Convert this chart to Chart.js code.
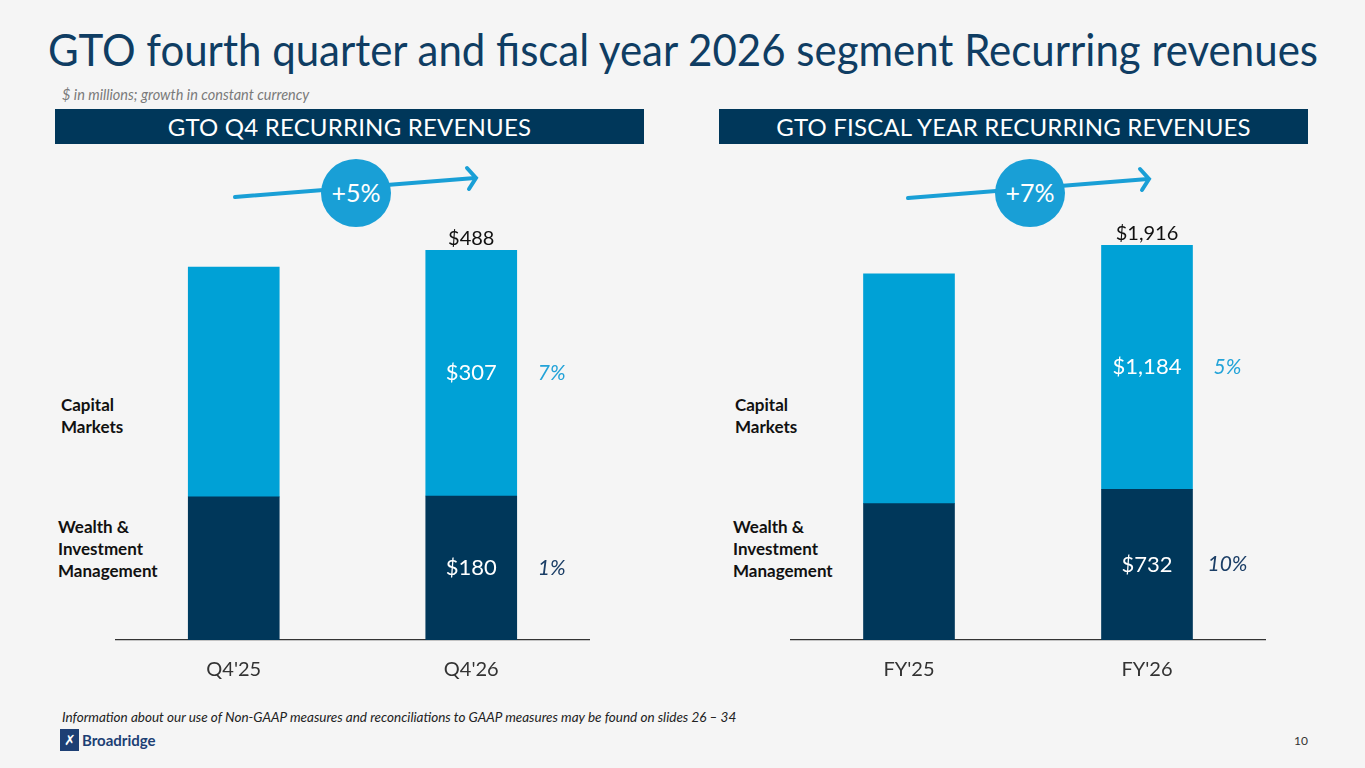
<!DOCTYPE html>
<html>
<head>
<meta charset="utf-8">
<script src="https://cdn.jsdelivr.net/npm/chart.js@4.4.1/dist/chart.umd.min.js"></script>
<style>
  html, body { margin: 0; padding: 0; }
  body { width: 1365px; height: 768px; background: #f5f5f5; position: relative; overflow: hidden;
         font-family: Lato, "Open Sans", sans-serif; color: #222; }
  .abs { position: absolute; }
  #title { left: 48px; top: 22px; font-size: 45px; color: #0f3d63; white-space: nowrap;
           transform-origin: left top; }
  #sub { left: 62px; top: 86px; font-size: 14.5px; font-style: italic; color: #7a7a7a; }
  .hdr { top: 109px; height: 35px; background: #00375a; color: #fff; font-size: 24px;
         line-height: 35px; text-align: center; letter-spacing: 0.2px; }
  .seg { font-size: 17px; font-weight: bold; color: #111; line-height: 22px; }
  .chart { position: absolute; }
  #foot { left: 62px; top: 709px; font-size: 13.5px; font-style: italic; color: #222; }
  #logo { left: 60px; top: 729px; height: 22px; display: flex; align-items: center; }
  #logo .mark { width: 19px; height: 22px; background: #1d3f74; color: #fff; font-size: 14px;
                line-height: 22px; text-align: center; margin-right: 3px; }
  #logo .name { font-size: 15px; font-weight: bold; color: #1d3f74; }
  #page { left: 1294px; top: 733px; font-size: 12px; color: #333; }
</style>
</head>
<body>
<div id="title" class="abs">GTO fourth quarter and fiscal year 2026 segment Recurring revenues</div>
<div id="sub" class="abs">$ in millions; growth in constant currency</div>
<div class="abs hdr" style="left:55px;width:589px;">GTO Q4 RECURRING REVENUES</div>
<div class="abs hdr" style="left:719px;width:589px;">GTO FISCAL YEAR RECURRING REVENUES</div>

<svg class="abs" style="left:0;top:0;" width="1365" height="768">
  <g stroke="#199fd6" stroke-width="4" fill="none" stroke-linecap="round">
    <line x1="235" y1="197" x2="475" y2="178"/>
    <polyline points="467,168 476,178 469,189"/>
    <line x1="908" y1="198" x2="1148" y2="179"/>
    <polyline points="1140,169 1149,179 1142,190"/>
  </g>
  <ellipse cx="356" cy="193" rx="35" ry="34" fill="#199fd6"/>
  <ellipse cx="1030" cy="193" rx="35" ry="34" fill="#199fd6"/>
  <text x="356" y="202" fill="#fff" font-size="25" text-anchor="middle" font-family="Lato, sans-serif">+5%</text>
  <text x="1030" y="202" fill="#fff" font-size="25" text-anchor="middle" font-family="Lato, sans-serif">+7%</text>
</svg>

<div class="abs seg" style="left:61px;top:394px;">Capital<br>Markets</div>
<div class="abs seg" style="left:58px;top:516px;">Wealth &amp;<br>Investment<br>Management</div>
<div class="abs seg" style="left:735px;top:394px;">Capital<br>Markets</div>
<div class="abs seg" style="left:733px;top:516px;">Wealth &amp;<br>Investment<br>Management</div>

<canvas id="qChart" class="chart" style="left:115px;top:190px;" width="475" height="492"></canvas>
<canvas id="fyChart" class="chart" style="left:790px;top:190px;" width="476" height="492"></canvas>

<div id="foot" class="abs">Information about our use of Non-GAAP measures and reconciliations to GAAP measures may be found on slides 26 – 34</div>
<div id="logo" class="abs"><div class="mark">&#10007;</div><div class="name">Broadridge</div></div>
<div id="page" class="abs">10</div>

<script>
// Q4 recurring revenues ($M)
const quarterLabels = ["Q4'25", "Q4'26"];
const quarterWim = [179, 180];
const quarterCm = [287, 307];
const quarterTotal = [466, 488];
const quarterWimGrowth = ['', '1%'];
const quarterCmGrowth = ['', '7%'];

// Fiscal year recurring revenues ($M)
const fyLabels = ["FY'25", "FY'26"];
const fyWim = [662, 732];
const fyCm = [1115, 1184];
const fyTotal = [1777, 1916];
const fyWimGrowth = ['', '10%'];
const fyCmGrowth = ['', '5%'];

const NAVY = '#00375a';
const BLUE = '#00a1d6';
const SHOW_IDX = 1; // only the current period is labelled

const fmt = v => '$' + v.toLocaleString('en-US');

const barLabels = {
    id: 'barLabels',
    afterDatasetsDraw(chart, args, opts) {
        const ctx = chart.ctx;
        ctx.save();
        chart.data.datasets.forEach((ds, di) => {
            const bar = chart.getDatasetMeta(di).data[SHOW_IDX];
            if (!bar) return;
            const midY = (bar.y + bar.base) / 2;
            ctx.textAlign = 'center';
            ctx.textBaseline = 'middle';
            ctx.font = '22px Lato, sans-serif';
            ctx.fillStyle = '#fff';
            ctx.fillText(fmt(ds.data[SHOW_IDX]), bar.x, midY);
            ctx.font = 'italic 21px Lato, sans-serif';
            ctx.fillStyle = ds.growthColor;
            ctx.fillText(ds.growth[SHOW_IDX], bar.x + bar.width / 2 + 35, midY);
        });
        // total on top of stack
        const last = chart.data.datasets.length - 1;
        const top = chart.getDatasetMeta(last).data[SHOW_IDX];
        ctx.font = '20px Lato, sans-serif';
        ctx.fillStyle = '#111';
        ctx.textBaseline = 'bottom';
        ctx.fillText(fmt(opts.totals[SHOW_IDX]), top.x, top.y - 2);
        ctx.restore();
    }
};

function makeChart(id, labels, wim, cm, wimG, cmG, totals, yMax, padTop) {
    const ctx = document.getElementById(id).getContext('2d');
    return new Chart(ctx, {
        type: 'bar',
        data: {
            labels: labels,
            datasets: [
                { label: 'Wealth & Investment Management', data: wim, backgroundColor: NAVY,
                  growth: wimG, growthColor: '#1b3e66', barThickness: 91 },
                { label: 'Capital Markets', data: cm, backgroundColor: BLUE,
                  growth: cmG, growthColor: '#23a3d8', barThickness: 91 }
            ]
        },
        options: {
            responsive: false,
            animation: false,
            layout: { padding: { top: padTop, left: 0, right: 0, bottom: 0 } },
            plugins: { legend: { display: false }, tooltip: { enabled: false }, barLabels: { totals: totals } },
            scales: {
                x: {
                    stacked: true,
                    grid: { display: false, drawTicks: false },
                    border: { display: true, color: '#333', width: 1.2 },
                    ticks: { color: '#333', padding: 18, font: { family: 'Lato, sans-serif', size: 20, lineHeight: 1.2 } },
                    afterFit: s => { s.height = 42; }
                },
                y: { stacked: true, display: false, min: 0, max: yMax }
            }
        },
        plugins: [barLabels]
    });
}

makeChart('qChart', quarterLabels, quarterWim, quarterCm, quarterWimGrowth, quarterCmGrowth, quarterTotal, 500, 50);
makeChart('fyChart', fyLabels, fyWim, fyCm, fyWimGrowth, fyCmGrowth, fyTotal, 2000, 38);

// squeeze the title into the slide width, like the narrow slide font
const t = document.getElementById('title');
const w = t.getBoundingClientRect().width;
if (w > 1270) t.style.transform = 'scaleX(' + (1270 / w) + ')';
</script>
</body>
</html>
